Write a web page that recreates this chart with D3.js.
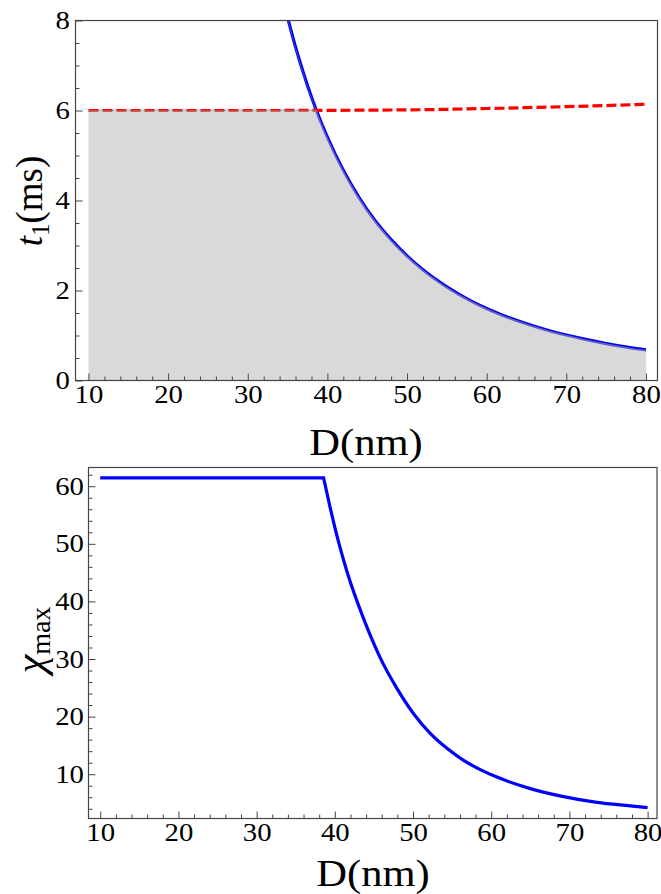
<!DOCTYPE html>
<html><head><meta charset="utf-8">
<script src="https://cdn.jsdelivr.net/npm/d3@7"></script>
<style>body{margin:0;background:#fff}svg{display:block}</style>
</head><body>
<script>
// ---- data ----
const blueD  = [35.1, 36, 37, 38, 39, 40, 42, 44, 46, 48, 50, 52, 55, 58, 60, 62, 65, 68, 70, 72, 75, 78, 80];
const blueT1 = [8.0, 7.41, 6.83, 6.30, 5.83, 5.41, 4.67, 4.06, 3.55, 3.13, 2.77, 2.46, 2.08, 1.77, 1.60, 1.45, 1.26, 1.10, 1.01, 0.93, 0.82, 0.73, 0.68];
const redD   = [10, 20, 30, 40, 45, 50, 53, 56, 60, 62, 65, 70, 75, 80];
const redT1  = [6.0, 6.0, 6.0, 6.003, 6.008, 6.014, 6.02, 6.03, 6.045, 6.05, 6.065, 6.085, 6.11, 6.14];
const chiD   = [10, 38.56, 39.42, 40.5, 41.55, 43.68, 45.81, 47.94, 50.07, 52.2, 54.34, 56.47, 58.6, 60.73, 65, 69.25, 73.52, 77.78, 80];
const chiMax = [61.45, 61.45, 56.2, 50.2, 45.2, 37.0, 30.2, 24.9, 20.5, 17.1, 14.5, 12.4, 10.8, 9.5, 7.5, 6.1, 5.1, 4.5, 4.2];
const xMajor = [10, 20, 30, 40, 50, 60, 70, 80];
const xMinor = [12,14,16,18,22,24,26,28,32,34,36,38,42,44,46,48,52,54,56,58,62,64,66,68,72,74,76,78];
const y1Major = [0, 2, 4, 6, 8];
const y1Minor = [0.5,1,1.5,2.5,3,3.5,4.5,5,5.5,6.5,7,7.5];
const y2Major = [10, 20, 30, 40, 50, 60];
const y2Minor = [4,6,8,12,14,16,18,22,24,26,28,32,34,36,38,42,44,46,48,52,54,56,58,62];

const W = 661, H = 894;
const SERIF = '"Liberation Serif", "Times New Roman", serif';
const SX = 1.15; // glyphs in the original are slightly wider than they are tall
const svg = d3.select("body").append("svg").attr("width", W).attr("height", H)
  .style("font-family", SERIF);
const FRAME = "#444";

function styleLabels(a) {
  a.attr("font-family", SERIF).attr("font-size", 25);
  a.selectAll("text").attr("fill", "#000").attr("transform", `scale(${SX},1)`);
}
function frameAndAxes(g, x, y, yMaj, yMin, padL) {
  const [x0, x1] = x.range(), [yb, yt] = y.range();
  g.append("g").attr("transform", `translate(0,${yb})`)
    .call(d3.axisBottom(x).tickValues(xMinor).tickSize(-4).tickFormat(""))
    .call(a => a.select(".domain").remove());
  g.append("g").attr("transform", `translate(${x0},0)`)
    .call(d3.axisLeft(y).tickValues(yMin).tickSize(-4).tickFormat(""))
    .call(a => a.select(".domain").remove());
  g.append("g").attr("transform", `translate(0,${yb})`)
    .call(d3.axisBottom(x).tickValues(xMajor).tickSize(-7).tickPadding(5))
    .call(a => a.select(".domain").remove())
    .call(styleLabels);
  g.append("g").attr("transform", `translate(${x0},0)`)
    .call(d3.axisLeft(y).tickValues(yMaj).tickSize(-7).tickPadding(padL))
    .call(a => a.select(".domain").remove())
    .call(styleLabels);
  g.selectAll(".tick line").attr("stroke", FRAME);
  g.append("rect").attr("x", x0).attr("y", yt).attr("width", x1 - x0).attr("height", yb - yt)
    .attr("fill", "none").attr("stroke", FRAME).attr("stroke-width", 1.2);
}

// ---------------- top chart ----------------
const x1s = d3.scaleLinear().domain([8.37, 81.45]).range([75.5, 657.5]);
const y1s = d3.scaleLinear().domain([0, 8]).range([380.5, 20.5]);
const gTop = svg.append("g");

const defs = svg.append("defs");
defs.append("clipPath").attr("id", "plot1")
  .append("rect").attr("x", x1s.range()[0]).attr("y", y1s.range()[1])
  .attr("width", x1s.range()[1] - x1s.range()[0]).attr("height", y1s.range()[0] - y1s.range()[1]);
const blueData = blueD.map((d, i) => [d, blueT1[i]]);
const redData = redD.map((d, i) => [d, redT1[i]]);
const underBlue = d3.area().x(d => x1s(d[0])).y0(y1s(0)).y1(d => y1s(d[1])).curve(d3.curveMonotoneX);
const cpFill = defs.append("clipPath").attr("id", "fillclip");
cpFill.append("path").attr("d", underBlue(blueData));
cpFill.append("rect").attr("x", x1s(redD[0]) - 1).attr("y", y1s(8))
  .attr("width", x1s(blueD[0]) - x1s(redD[0]) + 1).attr("height", y1s(0) - y1s(8));

const line1 = d3.line().x(d => x1s(d[0])).y(d => y1s(d[1])).curve(d3.curveMonotoneX);
const plot1 = gTop.append("g").attr("clip-path", "url(#plot1)");
plot1.append("path").attr("d", line1(blueData)).attr("fill", "none").attr("stroke", "#0000ff").attr("stroke-width", 3.2);
plot1.append("path").attr("d", line1(redData)).attr("fill", "none").attr("stroke", "#ff0000")
  .attr("stroke-width", 3.2).attr("stroke-dasharray", "10,4");
const underRed = d3.area().x(d => x1s(d[0])).y0(y1s(0)).y1(d => y1s(d[1])).curve(d3.curveMonotoneX);
const fillG = plot1.append("g").attr("clip-path", "url(#fillclip)");
fillG.append("path").attr("d", underRed(redData)).attr("fill", "#b4b4b4").attr("fill-opacity", 0.5);
fillG.append("path").attr("d", line1(redData)).attr("fill", "none").attr("stroke", "#777").attr("stroke-width", 1.2).attr("stroke-opacity", 0.4);
fillG.append("path").attr("d", line1(blueData)).attr("fill", "none").attr("stroke", "#777").attr("stroke-width", 1.4).attr("stroke-opacity", 0.7);

frameAndAxes(gTop, x1s, y1s, y1Major, y1Minor, 5);

gTop.append("text").attr("transform", `translate(366,455) scale(${SX},1)`).attr("text-anchor", "middle").attr("font-size", 37).text("D(nm)");
const yl1 = gTop.append("text").attr("transform", "translate(42,201) rotate(-90)").attr("text-anchor", "middle").attr("font-size", 37);
yl1.append("tspan").attr("font-style", "italic").text("t");
yl1.append("tspan").attr("font-size", 25).attr("dy", 7).text("1");
yl1.append("tspan").attr("dy", -7).text("(ms)");

// ---------------- bottom chart ----------------
const x2s = d3.scaleLinear().domain([8.5, 81.2]).range([88.5, 657]);
const y2s = d3.scaleLinear().domain([2.31, 63.25]).range([818.5, 467.5]);
const gBot = svg.append("g");
defs.append("clipPath").attr("id", "plot2")
  .append("rect").attr("x", x2s.range()[0]).attr("y", y2s.range()[1])
  .attr("width", x2s.range()[1] - x2s.range()[0]).attr("height", y2s.range()[0] - y2s.range()[1]);
const chiData = chiD.map((d, i) => [d, chiMax[i]]);
// flat plateau (straight) + smooth decay, joined in one path so the corner stays sharp
const flatPart = d3.line().x(d => x2s(d[0])).y(d => y2s(d[1]))(chiData.slice(0, 2));
const decayPart = d3.line().x(d => x2s(d[0])).y(d => y2s(d[1])).curve(d3.curveMonotoneX)(chiData.slice(1));
gBot.append("g").attr("clip-path", "url(#plot2)")
  .append("path").attr("d", flatPart + "L" + decayPart.slice(1)).attr("fill", "none")
  .attr("stroke", "#0000ff").attr("stroke-width", 3.2).attr("stroke-linejoin", "miter");

frameAndAxes(gBot, x2s, y2s, y2Major, y2Minor, 4);

gBot.append("text").attr("transform", `translate(373,886) scale(${SX},1)`).attr("text-anchor", "middle").attr("font-size", 37).text("D(nm)");
const yl2 = gBot.append("text").attr("transform", "translate(44,640) rotate(-90)").attr("text-anchor", "middle");
yl2.append("tspan").attr("font-style", "italic").attr("font-size", 42).text("χ");
yl2.append("tspan").attr("font-size", 28).attr("dy", 6).text("max");
</script>
</body></html>
